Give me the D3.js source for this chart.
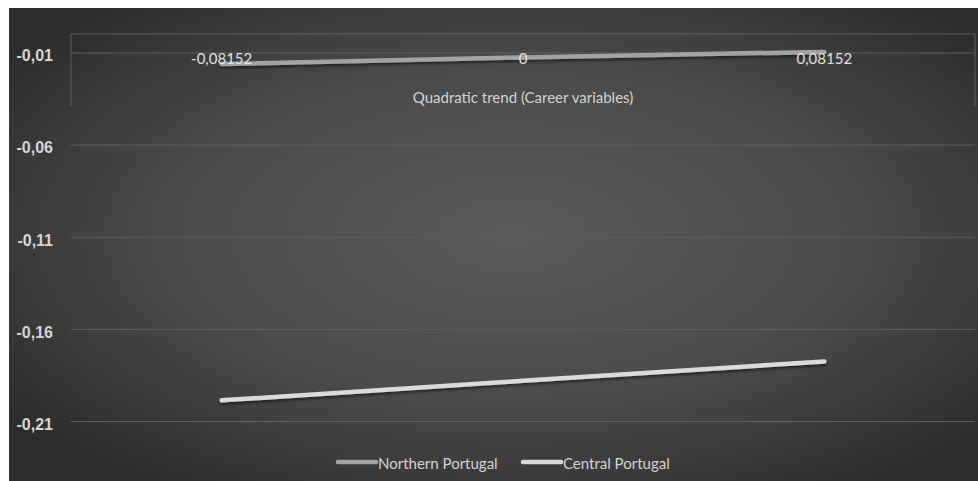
<!DOCTYPE html>
<html>
<head>
<meta charset="utf-8">
<script src="https://cdn.jsdelivr.net/npm/d3@7"></script>
<style>
  html, body { margin: 0; padding: 0; background: #ffffff; }
  svg { display: block; }
</style>
</head>
<body>
<svg id="chart" width="978" height="481"></svg>
<script>
// ---- data ----
const categories = ["-0,08152", "0", "0,08152"];
const northern = [-0.0163, -0.0127, -0.0097];
const central = [-0.1988, -0.1882, -0.1777];
const seriesNames = ["Northern Portugal", "Central Portugal"];
const yTicks = [-0.01, -0.06, -0.11, -0.16, -0.21];
const xTitle = "Quadratic trend (Career variables)";

const W = 978, H = 481;
const svg = d3.select("#chart");
const defs = svg.append("defs");

const grad = defs.append("radialGradient")
  .attr("id", "bg").attr("cx", "52%").attr("cy", "48%").attr("r", "65%")
  .attr("gradientUnits", "objectBoundingBox");
grad.append("stop").attr("offset", "0%").attr("stop-color", "#5a5a5a");
grad.append("stop").attr("offset", "55%").attr("stop-color", "#4a4a4a");
grad.append("stop").attr("offset", "100%").attr("stop-color", "#2c2c2c");

const shadow = defs.append("filter").attr("id", "shadow")
  .attr("x", "-5%").attr("y", "-100%").attr("width", "110%").attr("height", "300%");
shadow.append("feDropShadow").attr("dx", 0).attr("dy", 2).attr("stdDeviation", 1.5)
  .attr("flood-color", "#000").attr("flood-opacity", 0.55);

// background panel (white frame at top and left)
svg.append("rect").attr("x", 9).attr("y", 8).attr("width", W - 9).attr("height", H - 8)
  .attr("fill", "url(#bg)");

const plot = { left: 71, right: 975, top: 34, bottom: 421 };

const x = d3.scaleBand().domain(categories).range([plot.left, plot.right]).padding(0);
const y = d3.scaleLinear().domain([-0.21, 0]).range([plot.bottom, plot.top]);

const gridColor = "#5e5e5e";

// gridlines
const yAxis = d3.axisLeft(y).tickValues(yTicks)
  .tickSize(-(plot.right - plot.left))
  .tickFormat(d => d3.format(".2f")(d).replace(".", ",").replace("\u2212", "-"));
const gy = svg.append("g").attr("transform", `translate(${plot.left},0)`).call(yAxis);
gy.select(".domain").remove();
gy.selectAll(".tick line").attr("stroke", gridColor).attr("stroke-width", 1);
gy.selectAll(".tick text")
  .attr("x", -18)
  .attr("fill", "#d6d6d6")
  .attr("font-family", "'Liberation Sans', Arial, sans-serif")
  .attr("font-size", 16)
  .attr("font-weight", "bold")
  .attr("dy", "0.52em");

// horizontal (category) axis at value 0
const y0 = y(0);
svg.append("line").attr("x1", plot.left).attr("x2", plot.right)
  .attr("y1", y0).attr("y2", y0).attr("stroke", gridColor).attr("stroke-width", 1);
// edge tick lines of category axis
[plot.left, plot.right].forEach(px => {
  svg.append("line").attr("x1", px).attr("x2", px).attr("y1", y0).attr("y2", y0 + 72)
    .attr("stroke", gridColor).attr("stroke-width", 1);
});

// series lines
const line = d3.line()
  .x((d, i) => x(categories[i]) + x.bandwidth() / 2)
  .y(d => y(d));

svg.append("path").datum(northern)
  .attr("d", line).attr("fill", "none")
  .attr("stroke", "#a3a3a3").attr("stroke-width", 4.5)
  .attr("stroke-linecap", "round").attr("filter", "url(#shadow)");

svg.append("path").datum(central)
  .attr("d", line).attr("fill", "none")
  .attr("stroke", "#dadada").attr("stroke-width", 4.5)
  .attr("stroke-linecap", "round").attr("filter", "url(#shadow)");

// category labels
const catFont = "Lato, 'Open Sans', sans-serif";
svg.append("g").selectAll("text").data(categories).join("text")
  .attr("x", d => x(d) + x.bandwidth() / 2)
  .attr("y", y0 + 30)
  .attr("text-anchor", "middle")
  .attr("fill", "#e2e2e2")
  .attr("font-family", catFont)
  .attr("font-size", 15)
  .text(d => d);

// axis title
svg.append("text")
  .attr("x", (plot.left + plot.right) / 2)
  .attr("y", 103)
  .attr("text-anchor", "middle")
  .attr("fill", "#d4d4d4")
  .attr("font-family", catFont)
  .attr("font-size", 15)
  .text(xTitle);

// legend
const legendItems = [
  { name: seriesNames[0], color: "#a3a3a3", x: 338 },
  { name: seriesNames[1], color: "#dadada", x: 523 }
];
const lg = svg.append("g");
legendItems.forEach(it => {
  lg.append("line").attr("x1", it.x).attr("x2", it.x + 38)
    .attr("y1", 462).attr("y2", 462)
    .attr("stroke", it.color).attr("stroke-width", 4.5).attr("stroke-linecap", "round");
  lg.append("text").attr("x", it.x + 40).attr("y", 469)
    .attr("fill", "#d4d4d4").attr("font-family", catFont).attr("font-size", 15)
    .text(it.name);
});
</script>
</body>
</html>
